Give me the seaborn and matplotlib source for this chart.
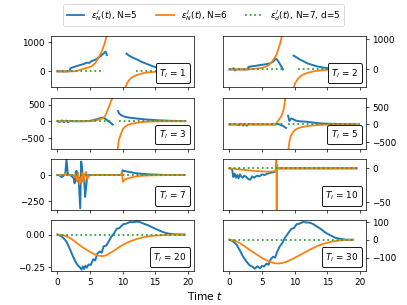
import numpy as np
import seaborn as sns
import matplotlib
matplotlib.use("Agg")
import matplotlib.pyplot as plt
from matplotlib.lines import Line2D
from matplotlib.offsetbox import AnchoredText

nan = np.nan

# Etiquetas de cada panel (T_l) y limites del eje y
t_l = [1, 2, 3, 5, 7, 10, 20, 30]
y_limites = [(-550, 1200), (-600, 1100), (-830, 710), (-700, 770),
             (-337, 154), (-62.5, 14), (-0.284, 0.11), (-177, 108)]
y_ticks = [[0, 1000], [0, 1000], [-500, 0, 500], [-500, 0, 500],
           [-250, 0], [-50, 0], [-0.25, 0.0], [-100, 0, 100]]

# ---- T_l = 1 ----
b1_t = [0, 0.5, 1, 1.5, 1.9, 2.0, 2.4, 2.8, 3.2, 3.7, 4.1, 4.5, 4.9, 5.2, 5.6, 6.0, 6.2, 6.6, 7.0, 7.2, 7.4, 7.6,
        nan, 10.6, 11.0, 11.5, 12.3, 13.0, 13.8, 14.6, 15.4, 16.4, 17.4, 18.4, 19.5]
b1_v = [0, 5, -5, 0, 10, 110, 140, 170, 200, 230, 260, 300, 290, 350, 380, 420, 460, 520, 600, 640, 680, 560,
        nan, 610, 540, 480, 400, 320, 250, 180, 115, 60, 25, 10, 0]
o1_t = [0, 1, 2, 2.5, 3, 3.7, 4.5, 5.2, 5.8, 6.2, 6.7, 7.2, 7.6,
        nan, 10.4, 10.7, 11.0, 11.3, 11.8, 12.3, 13.0, 13.8, 14.6, 15.5, 17.0, 18.0, 19.5]
o1_v = [0, 0, 0, 5, 20, 70, 120, 170, 280, 430, 630, 920, 1250,
        nan, -560, -400, -300, -230, -160, -115, -70, -35, -20, -10, 0, 0, 0]
g1_t = [0, 7.1, nan, 12.1, 20]
g1_v = [0, 0, nan, 0, 0]

# ---- T_l = 2 ----
b2_t = [0, 0.4, 0.6, 0.8, 1.2, 2, 2.8, 2.9, 3.3, 4, 4.8, 5.5, 6.2, 6.7, 7.0, 7.2, 7.5, 7.9, 8.2,
        nan, 9.85, 10.3, 10.8, 11.3, 12.0, 12.8, 13.5, 14.3, 15.5, 17, 18.5, 19.5]
b2_v = [0, 0, 40, -30, 0, 0, 0, 80, 100, 120, 150, 170, 200, 260, 330, 350, 270, 120, 0,
        nan, 460, 400, 330, 280, 200, 145, 100, 65, 35, 15, 5, 0]
o2_t = [0, 2, 3, 4, 5, 6, 6.7, 7.2, 7.5, 7.8, 8.1,
        nan, 9.85, 10.1, 10.5, 11.0, 11.5, 12.2, 13, 14, 15, 16.5, 19.5]
o2_v = [0, 0, 5, 25, 50, 130, 310, 480, 680, 880, 1150,
        nan, -620, -450, -320, -210, -150, -100, -60, -30, -12, 0, 0]
g2_t = [0, 8.0, nan, 10.5, 20]
g2_v = [0, 0, nan, 0, 0]

# ---- T_l = 3 ----
b3_t = [0, 0.4, 0.7, 1.0, 1.3, 1.6, 2.0, 2.4, 3, 4, 4.9, 5.5, 6.0, 6.5, 7.0, 7.3, 7.7, 8.1, 8.5,
        nan, 9.3, 9.5, 9.8, 10.3, 11.0, 12.3, 13.5, 15.4, 17.5, 19.5]
b3_v = [0, -20, 25, -30, 20, -25, 15, 0, 0, 0, 10, 30, 60, 90, 110, 80, 20, -40, -100,
        nan, 310, 230, 180, 140, 110, 80, 55, 30, 12, 5]
o3_t = [0, 4, 4.9, 5.5, 6, 6.5, 7.0, 7.4, 7.7, 8.0, 8.25, 8.5,
        nan, 9.25, 9.4, 9.7, 10.0, 10.3, 10.8, 11.5, 12.2, 13, 14, 15, 17, 19.5]
o3_v = [0, 0, 0, 10, 30, 60, 90, 180, 340, 480, 620, 720,
        nan, -840, -600, -400, -260, -175, -110, -70, -45, -25, -12, -5, 0, 0]
g3_t = [0, 8.2, nan, 9.5, 20]
g3_v = [0, 0, nan, 0, 0]

# ---- T_l = 5 ----
b5_t = [0, 1, 1.5, 1.8, 2.1, 2.4, 2.7, 3.0, 3.4, 4, 5, 6, 7, 7.4, 7.8, 8.2, 8.5, 8.7,
        nan, 9.0, 9.2, 9.5, 9.8, 10.2, 10.8, 11.8, 13, 14, 15.5, 17, 19.5]
b5_v = [0, 0, -20, 20, -30, 10, -35, 15, 0, 0, 0, 0, 0, 15, -10, -40, -80, -100,
        nan, 250, 100, 175, 150, 110, 90, 80, 50, 30, 18, 10, 5]
o5_t = [0, 6, 7, 7.3, 7.6, 7.9, 8.1, 8.3, 8.45, 8.6,
        nan, 9.05, 9.2, 9.4, 9.75, 10.2, 10.8, 11.5, 12.5, 14, 16, 19.5]
o5_v = [0, 0, 0, 60, 140, 220, 300, 420, 580, 780,
        nan, -710, -500, -330, -220, -140, -90, -60, -35, -12, 0, 0]
g5_t = [0, 8.6, nan, 9.0, 20]
g5_v = [0, 0, nan, 0, 0]

# ---- T_l = 7 ----
b7_t = [0, 0.3, 0.6, 0.9, 1.2, 1.4, 1.6, 1.9, 2.2, 2.5, 2.65, 2.8, 2.95, 3.1, 3.25, 3.5, 3.65, 3.8, 3.95,
        4.1, 4.25, 4.4, 4.55, 4.7, 4.9, 5.2, 6, 8, 9.8, 10.0, 10.2, 10.6, 11, 11.5, 12, 13, 14, 15, 16, 17, 19.5]
b7_v = [0, 0, -20, -10, 10, 150, 10, 0, -10, -30, -80, 20, 40, -60, -20, -320, 130, 60, -60,
        -30, -210, -120, -30, 0, 0, 0, 0, 0, 0, 45, 40, 35, 30, 24, 18, 11, 7, 4, 2, 0, 0]
o7_t = [0, 1.0, 1.2, 1.4, 2.4, 2.6, 2.8, 3.0, 3.2, 3.4, 3.6, 3.8, 4.0, 4.2, 4.4, 4.6, 4.8, 5.1,
        9.8, 9.9, 10.05, 10.3, 10.7, 11.2, 12, 13, 14, 15.5, 17, 19.5]
o7_v = [0, 0, 15, 0, 0, -20, 10, -60, 20, -90, -40, 20, -70, 10, 30, -40, -10, 0,
        0, 30, -65, -45, -35, -25, -14, -7, -4, -2, 0, 0]
g7_t = [0, 20]
g7_v = [0, 0]

# ---- T_l = 10 ----
b10_t = [0, 0.4, 0.6, 0.8, 1.0, 1.2, 1.4, 1.6, 1.8, 2.0, 2.3, 2.6, 2.9, 3.2, 3.5, 3.8, 4.2, 4.6, 5.0,
         5.4, 5.8, 6.2, 6.6, 7.0, 7.3, 8, 10, 14, 19.5]
b10_v = [0, -1, -13, -8, -14, -10, -15, -9, -12, -14, -11, -13, -16, -17, -12, -14, -11, -12, -9,
         -10, -8, -7, -6, -5, 0, 0, 0, 0, 0]
o10_t = [0, 1, 2, 3, 4, 5, 6, 6.8, 7.1, 7.2, 7.25, 7.3, 7.4, 7.6, 8, 19.5]
o10_v = [0, -1, -2, -3, -4, -4.5, -5, -4.5, -3, 12, -65, 5, 0, 0, 0, 0]
g10_t = [0, 20]
g10_v = [0, 0]

# ---- T_l = 20 ----
b20_t = [0, 0.5, 1.0, 1.4, 1.9, 2.4, 2.9, 3.2, 3.5, 3.7, 3.9, 4.1, 4.3, 4.5, 4.8, 5.1, 5.5, 5.8, 6.1, 6.5,
         6.8, 7.1, 7.5, 7.9, 8.3, 8.7, 9.1, 9.5, 10.1, 10.6, 11.1, 11.6, 12.1, 12.6, 13.1, 13.9, 14.7,
         15.5, 16.2, 17.0, 17.7, 18.5, 19.5]
b20_v = [0, -0.01, -0.03, -0.055, -0.11, -0.17, -0.22, -0.24, -0.255, -0.27, -0.245, -0.265, -0.24,
         -0.255, -0.23, -0.235, -0.19, -0.2, -0.15, -0.13, -0.14, -0.09, -0.085, -0.05, -0.015, 0.01,
         0.045, 0.05, 0.08, 0.085, 0.097, 0.095, 0.1, 0.098, 0.087, 0.072, 0.053, 0.035, 0.019, 0.008,
         0.003, 0.001, 0]
o20_t = [0, 0.7, 1.4, 2.2, 3, 3.8, 4.5, 5.2, 6, 6.5, 7, 7.5, 8, 8.8, 9.6, 10.3, 11.1, 12.1, 13.1,
         14.1, 15.2, 16.5, 18, 19.5]
o20_v = [0, -0.003, -0.013, -0.035, -0.066, -0.095, -0.118, -0.14, -0.158, -0.164, -0.166, -0.16,
         -0.145, -0.12, -0.092, -0.072, -0.053, -0.035, -0.021, -0.012, -0.007, -0.003, -0.001, 0]
g20_t = [0, 20]
g20_v = [0, 0]

# ---- T_l = 30 ----
b30_t = [0, 0.5, 1.1, 1.6, 2.1, 2.6, 3.1, 3.5, 3.9, 4.3, 4.7, 5.0, 5.3, 5.7, 6.0, 6.3, 6.7, 7.0, 7.3,
         7.7, 8.1, 8.5, 9.0, 9.5, 9.9, 10.3, 10.8, 11.3, 11.8, 12.3, 12.8, 13.3, 14.0, 14.8, 15.5,
         16.3, 17.1, 17.9, 18.9]
b30_v = [0, -8, -28, -60, -95, -122, -143, -150, -162, -148, -160, -145, -150, -133, -140, -110, -95,
         -100, -70, -38, -20, 10, 35, 61, 65, 86, 90, 99, 96, 95, 88, 76, 60, 38, 24, 10, 4, 0, 0]
o30_t = [0, 0.8, 1.6, 2.3, 3.1, 3.9, 4.7, 5.4, 6.2, 6.9, 7.5, 8.1, 8.7, 9.7, 10.8, 12.0, 13.3, 14.5,
         15.8, 17, 18, 19]
o30_v = [0, -5, -19, -36, -57, -76, -95, -110, -124, -131, -133, -130, -124, -107, -86, -62, -38,
         -22, -10, -4, -1, 0]
g30_t = [0, 19]
g30_v = [0, 0]

paneles = [
    (b1_t, b1_v, o1_t, o1_v, g1_t, g1_v),
    (b2_t, b2_v, o2_t, o2_v, g2_t, g2_v),
    (b3_t, b3_v, o3_t, o3_v, g3_t, g3_v),
    (b5_t, b5_v, o5_t, o5_v, g5_t, g5_v),
    (b7_t, b7_v, o7_t, o7_v, g7_t, g7_v),
    (b10_t, b10_v, o10_t, o10_v, g10_t, g10_v),
    (b20_t, b20_v, o20_t, o20_v, g20_t, g20_v),
    (b30_t, b30_v, o30_t, o30_v, g30_t, g30_v),
]

etiquetas = [r"$\varepsilon_N^l(t)$, N=5", r"$\varepsilon_N^l(t)$, N=6",
             r"$\varepsilon_d^l(t)$, N=7, d=5"]
colores = ["tab:blue", "tab:orange", "tab:green"]
estilos = ["-", "-", ":"]
grosores = [2.2, 2, 2]


def dibujar_serie(ax, t, v, color, estilo, grosor):
    # Cortamos la serie en los NaN para que quede el hueco
    t = np.array(t, dtype=float)
    v = np.array(v, dtype=float)
    cortes = np.where(np.isnan(t))[0]
    inicio = 0
    for fin in list(cortes) + [len(t)]:
        if fin - inicio > 1:
            sns.lineplot(x=t[inicio:fin], y=v[inicio:fin], ax=ax, color=color,
                         linestyle=estilo, linewidth=grosor, sort=False, estimator=None)
        inicio = fin + 1


fig, axes = plt.subplots(4, 2, sharex=True, figsize=(6.4, 4.8), dpi=407 / 6.4)
axes = axes.flatten()

for i, ax in enumerate(axes):
    datos = paneles[i]
    for k in range(3):
        dibujar_serie(ax, datos[2 * k], datos[2 * k + 1], colores[k], estilos[k], grosores[k])
    ax.set_ylim(*y_limites[i])
    ax.set_yticks(y_ticks[i])
    ax.set_xlim(-1, 21)
    ax.set_xticks([0, 5, 10, 15, 20])
    if i % 2 == 1:
        ax.yaxis.tick_right()
    caja = AnchoredText(rf"$T_l$ = {t_l[i]}", loc="lower right", prop=dict(size=10), frameon=True)
    caja.patch.set_boxstyle("round,pad=0.,rounding_size=0.2")
    ax.add_artist(caja)

handles = [Line2D([], [], color=c, linestyle=s, linewidth=2) for c, s in zip(colores, estilos)]
fig.legend(handles, etiquetas, loc="upper center", ncol=3)
fig.supxlabel("Time $t$", x=0.505, y=0.01, fontsize=12)

plt.savefig("out.png", dpi=407 / 6.4)
